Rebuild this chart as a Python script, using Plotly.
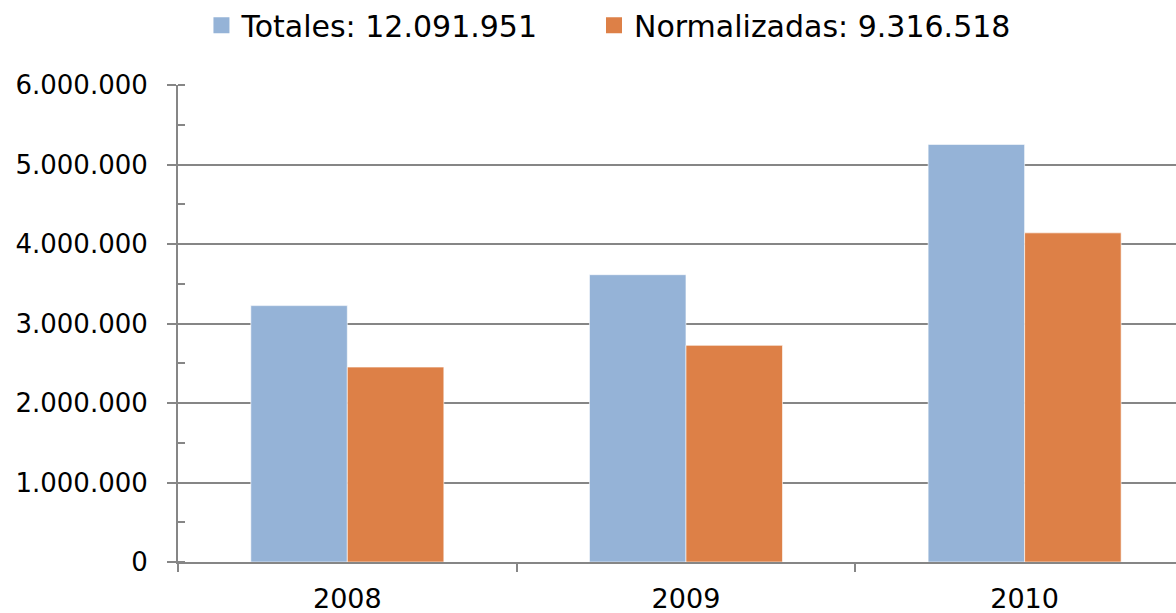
import plotly.graph_objects as go

years = ["2008", "2009", "2010"]
totales = [3225000, 3614000, 5253000]
normalizadas = [2452000, 2725000, 4140000]
name_tot = "Totales: 12.091.951"
name_norm = "Normalizadas: 9.316.518"

BLUE = "#95B3D7"
ORANGE = "#DD8047"
FONT = "DejaVu Sans"
GRID = "#868686"

fig = go.Figure()
fig.add_trace(go.Bar(x=years, y=totales, name=name_tot, showlegend=False,
                     marker=dict(color=BLUE, line=dict(color="rgba(255,255,255,0.6)", width=1))))
fig.add_trace(go.Bar(x=years, y=normalizadas, name=name_norm, showlegend=False,
                     marker=dict(color=ORANGE, line=dict(color="rgba(255,255,255,0.6)", width=1))))
# legend keys (larger square swatches like the original)
for nm, col, lg in [(name_tot, BLUE, "legend"), (name_norm, ORANGE, "legend2")]:
    fig.add_trace(go.Scatter(x=[None], y=[None], mode="markers", name=nm, legend=lg,
                             marker=dict(symbol="square", size=18, color=col)))

leg_common = dict(orientation="h", xref="container", yref="container",
                  xanchor="left", y=0.959, yanchor="middle",
                  font=dict(family=FONT, size=30, color="black"),
                  itemsizing="trace", bgcolor="rgba(0,0,0,0)")

fig.update_layout(
    width=1176, height=613,
    margin=dict(l=178, r=0, t=85, b=51),
    paper_bgcolor="white", plot_bgcolor="white",
    separators=",.",
    barmode="group", bargap=0.43, bargroupgap=0,
    font=dict(family=FONT, size=26, color="black"),
    legend=dict(x=0.1713, **leg_common),
    legend2=dict(x=0.5051, **leg_common),
    showlegend=True,
)
fig.update_yaxes(range=[0, 6000000], dtick=1000000, tickformat=",d",
                 showgrid=True, gridcolor=GRID, gridwidth=2,
                 showline=True, linecolor=GRID, linewidth=2,
                 ticks="outside", ticklen=9, tickcolor=GRID, tickwidth=2,
                 ticklabelstandoff=14,
                 minor=dict(dtick=500000, ticks="inside", ticklen=7, tickcolor=GRID, tickwidth=2, showgrid=False),
                 zeroline=False)
fig.update_xaxes(range=[-0.5, 2.447], tickson="boundaries",
                 showline=True, linecolor=GRID, linewidth=2,
                 ticks="outside", ticklen=8, tickcolor=GRID, tickwidth=2,
                 tickfont=dict(size=27),
                 ticklabelstandoff=12, showgrid=False)

fig.write_html("out.html", config={"displayModeBar": False},
               post_script="document.body.style.margin='0';document.body.style.overflow='hidden';")
